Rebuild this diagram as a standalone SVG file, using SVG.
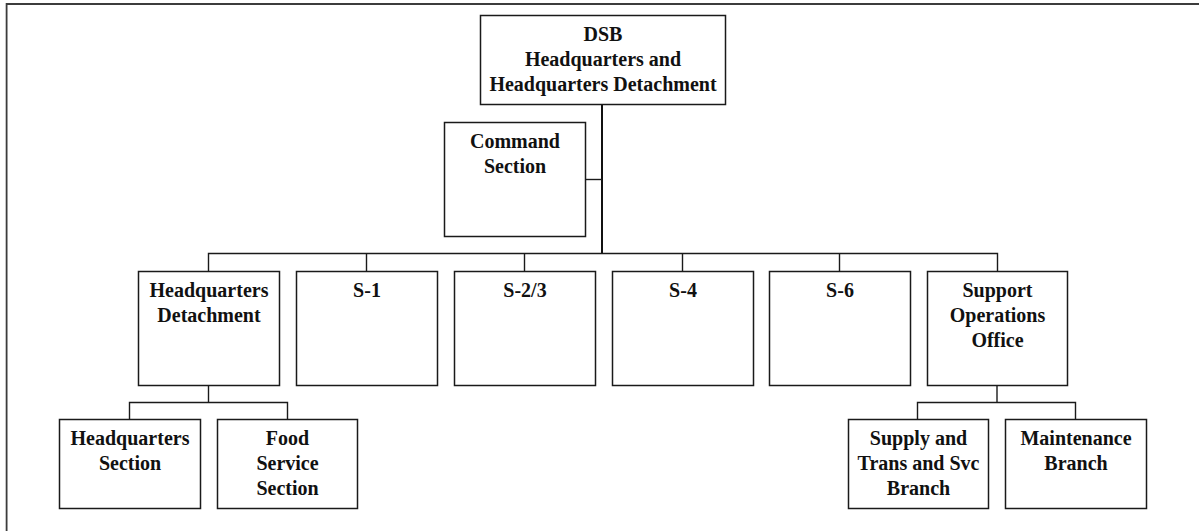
<svg xmlns="http://www.w3.org/2000/svg" width="1199" height="531" viewBox="0 0 1199 531">
  <style>
    .box { fill: #ffffff; stroke: #1a1a1a; stroke-width: 1.5; }
    .lbl { font-family: "Liberation Serif", "Times New Roman", serif; font-weight: bold; font-size: 20px; fill: #111111; text-anchor: middle; }
    .wire { fill: none; stroke: #1a1a1a; stroke-width: 1.4; }
    .trunk { fill: none; stroke: #111111; stroke-width: 2; }
    .frame { fill: none; stroke: #3c3c3c; }
  </style>
  <rect width="1199" height="531" fill="#ffffff"/>

  <!-- page frame (top and left edges) -->
  <g id="frame">
    <line class="frame" x1="6" y1="4" x2="1199" y2="4" stroke-width="2.2"/>
    <line class="frame" x1="6.6" y1="3" x2="6.6" y2="531" stroke-width="1.8"/>
  </g>

  <!-- connectors -->
  <g id="connectors">
    <line class="trunk" x1="602" y1="104" x2="602" y2="254"/>
    <line class="wire" x1="585.5" y1="179.5" x2="602" y2="179.5"/>
    <polyline class="wire" points="208.5,271 208.5,253.5 997.5,253.5 997.5,271"/>
    <line class="wire" x1="366.5" y1="253.5" x2="366.5" y2="271"/>
    <line class="wire" x1="524.5" y1="253.5" x2="524.5" y2="271"/>
    <line class="wire" x1="682.5" y1="253.5" x2="682.5" y2="271"/>
    <line class="wire" x1="839.5" y1="253.5" x2="839.5" y2="271"/>
    <line class="wire" x1="208.5" y1="385.5" x2="208.5" y2="402.5"/>
    <polyline class="wire" points="129.5,419 129.5,402.5 287.5,402.5 287.5,419"/>
    <line class="wire" x1="997" y1="385.5" x2="997" y2="402.5"/>
    <polyline class="wire" points="917.5,419 917.5,402.5 1075.5,402.5 1075.5,419"/>
  </g>

  <g id="dsb-hq">
    <rect class="box" x="480.5" y="15.5" width="245" height="89"/>
    <text class="lbl" x="603" y="41">DSB</text>
    <text class="lbl" x="603" y="66">Headquarters and</text>
    <text class="lbl" x="603" y="91">Headquarters Detachment</text>
  </g>

  <g id="command-section">
    <rect class="box" x="444.5" y="122.5" width="141" height="114"/>
    <text class="lbl" x="515" y="148">Command</text>
    <text class="lbl" x="515" y="173">Section</text>
  </g>

  <g id="hq-detachment">
    <rect class="box" x="138.5" y="271.5" width="141" height="114"/>
    <text class="lbl" x="209" y="297">Headquarters</text>
    <text class="lbl" x="209" y="322">Detachment</text>
  </g>

  <g id="s1">
    <rect class="box" x="296.5" y="271.5" width="141" height="114"/>
    <text class="lbl" x="367" y="297">S-1</text>
  </g>

  <g id="s2-3">
    <rect class="box" x="454.5" y="271.5" width="141" height="114"/>
    <text class="lbl" x="525" y="297">S-2/3</text>
  </g>

  <g id="s4">
    <rect class="box" x="612.5" y="271.5" width="141" height="114"/>
    <text class="lbl" x="683" y="297">S-4</text>
  </g>

  <g id="s6">
    <rect class="box" x="769.5" y="271.5" width="141" height="114"/>
    <text class="lbl" x="840" y="297">S-6</text>
  </g>

  <g id="support-ops">
    <rect class="box" x="927.5" y="271.5" width="140" height="114"/>
    <text class="lbl" x="997.5" y="297">Support</text>
    <text class="lbl" x="997.5" y="322">Operations</text>
    <text class="lbl" x="997.5" y="347">Office</text>
  </g>

  <g id="hq-section">
    <rect class="box" x="59.5" y="419.5" width="141" height="89"/>
    <text class="lbl" x="130" y="445">Headquarters</text>
    <text class="lbl" x="130" y="470">Section</text>
  </g>

  <g id="food-service">
    <rect class="box" x="217.5" y="419.5" width="140" height="89"/>
    <text class="lbl" x="287.5" y="445">Food</text>
    <text class="lbl" x="287.5" y="470">Service</text>
    <text class="lbl" x="287.5" y="495">Section</text>
  </g>

  <g id="supply-trans">
    <rect class="box" x="848.5" y="419.5" width="140" height="89"/>
    <text class="lbl" x="918.5" y="445">Supply and</text>
    <text class="lbl" x="918.5" y="470">Trans and Svc</text>
    <text class="lbl" x="918.5" y="495">Branch</text>
  </g>

  <g id="maintenance">
    <rect class="box" x="1005.5" y="419.5" width="141" height="89"/>
    <text class="lbl" x="1076" y="445">Maintenance</text>
    <text class="lbl" x="1076" y="470">Branch</text>
  </g>
</svg>
